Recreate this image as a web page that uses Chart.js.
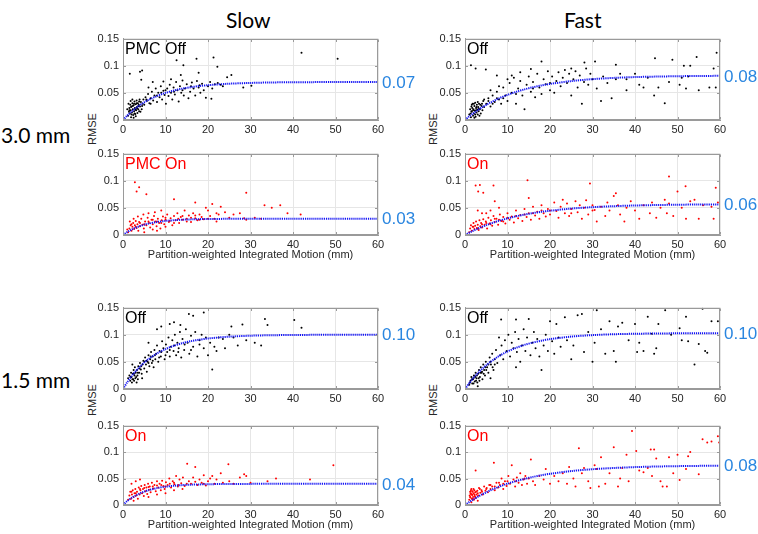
<!DOCTYPE html>
<html>
<head>
<meta charset="utf-8">
<script src="https://cdn.jsdelivr.net/npm/chart.js@4.4.1/dist/chart.umd.min.js"></script>
<style>
  body { margin: 0; background: #fff; width: 758px; height: 534px; position: relative; overflow: hidden; font-family: "Liberation Sans", Arial, sans-serif; }
  canvas { position: absolute; }
  .hdr { position: absolute; font-family: Lato, "Open Sans", sans-serif; font-size: 21px; line-height: 21px; color: #000; white-space: nowrap; }
  .rmse { position: absolute; font-size: 11px; color: #262626; transform: translate(-50%, -50%) rotate(-90deg); white-space: nowrap; }
</style>
</head>
<body>
<div class="hdr" style="left:226px;top:9px;">Slow</div>
<div class="hdr" style="left:564px;top:9px;">Fast</div>
<div class="hdr" style="left:1px;top:124px;font-size:21px;">3.0 mm</div>
<div class="hdr" style="left:1px;top:369px;font-size:21px;">1.5 mm</div>
<div class="rmse" style="left:92px;top:129px;">RMSE</div>
<div class="rmse" style="left:433px;top:129px;">RMSE</div>
<div class="rmse" style="left:92px;top:400px;">RMSE</div>
<div class="rmse" style="left:433px;top:400px;">RMSE</div>

<script>
// axis ticks
const xTickLabels = ['0', '10', '20', '30', '40', '50', '60'];
const yTickLabels = ['0', '0.05', '0.1', '0.15'];
const xTitle = 'Partition-weighted Integrated Motion (mm)';

// x positions of the fitted curves
const fitX = [0, 1, 2, 3, 4, 5, 6, 8, 10, 12, 14, 16, 18, 20, 25, 30, 35, 40, 45, 50, 55, 60];

// fitted curves
const fitSlow30Off = [0, .0082, .0155, .0218, .0275, .0326, .0369, .0442, .0500, .0544, .0579, .0605, .0626, .0642, .0669, .0683, .0692, .0696, .0698, .0699, .0700, .0700];
const fitSlow30On  = [0, .0054, .0099, .0135, .0165, .0190, .0210, .0240, .0259, .0272, .0282, .0288, .0292, .0295, .0298, .0299, .0300, .0300, .0300, .0300, .0300, .0300];
const fitFast30Off = [0, .0066, .0126, .0181, .0232, .0280, .0322, .0399, .0463, .0518, .0565, .0604, .0637, .0665, .0717, .0753, .0776, .0791, .0800, .0807, .0811, .0814];
const fitFast30On  = [0, .0042, .0081, .0117, .0151, .0182, .0211, .0262, .0306, .0344, .0376, .0404, .0428, .0447, .0487, .0513, .0531, .0544, .0552, .0558, .0562, .0564];
const fitSlow15Off = [0, .0125, .0234, .0330, .0413, .0487, .0551, .0656, .0736, .0798, .0845, .0882, .0909, .0931, .0964, .0982, .0991, .0995, .0998, .0999, .1000, .1000];
const fitSlow15On  = [0, .0073, .0132, .0180, .0220, .0253, .0280, .0319, .0346, .0364, .0376, .0384, .0389, .0393, .0397, .0399, .0400, .0400, .0400, .0400, .0400, .0400];
const fitFast15Off = [0, .0108, .0205, .0291, .0370, .0439, .0501, .0607, .0691, .0758, .0813, .0856, .0891, .0919, .0966, .0993, .1009, .1018, .1023, .1026, .1028, .1029];
const fitFast15On  = [0, .0056, .0107, .0155, .0199, .0239, .0278, .0345, .0403, .0452, .0494, .0531, .0563, .0589, .0641, .0676, .0699, .0716, .0727, .0734, .0739, .0743];

// fitted plateau values printed on the right
const fitLabels = ['0.07', '0.03', '0.08', '0.06', '0.10', '0.04', '0.10', '0.08'];

// measured points [motion, rmse]
const ptsSlow30Off = [
  [1.2,.008],[1.4,.015],[1.5,.022],[1.6,.012],[1.7,.028],[1.8,.018],[1.9,.005],[2.0,.025],[2.1,.014],[2.2,.031],[2.3,.020],[2.4,.009],[2.5,.027],[2.6,.016],[2.7,.034],[2.8,.022],[2.9,.011],[3.0,.029],[3.1,.018],[3.2,.036],[3.3,.024],[3.4,.013],[3.5,.031],[3.6,.020],[3.7,.028],[3.8,.016],[3.9,.038],[4.0,.025],[4.2,.033],[4.4,.020],[4.6,.030],[4.8,.038],[1.3,.030],[1.8,.035],[2.2,.038],[2.5,.004],[3.0,.007],[1.0,.020],
  [1.5,.018],[2.0,.010],[2.3,.026],[2.6,.030],[2.9,.019],[3.3,.021],[3.6,.026],[4.1,.015],[4.5,.026],[1.9,.024],[2.7,.012],[3.2,.031],[3.8,.034],[5.5,.038],[6.5,.030],[8.0,.045],[9.0,.050],[10.0,.055],[12.0,.052],[14.0,.055],[16.0,.062],[18.0,.064],
  [5.0,.028],[5.3,.042],[5.6,.035],[5.9,.048],[6.2,.031],[6.5,.040],[6.8,.052],[7.1,.036],[7.4,.045],[7.7,.058],[8.0,.033],[8.3,.050],[8.6,.042],[8.9,.062],[9.2,.038],[9.5,.054],[9.8,.046],[10.1,.030],[10.4,.058],[10.7,.044],[11.0,.065],[11.3,.050],[11.6,.038],[11.9,.060],[12.2,.047],[12.5,.070],[12.8,.055],[13.1,.034],[13.4,.062],[13.7,.050],[14.0,.073],[14.3,.045],[14.6,.058],[15.0,.066],[15.4,.040],[15.8,.052],[16.2,.069],[16.6,.058],[17.0,.045],[17.4,.072],[17.8,.060],[18.2,.050],[18.6,.067],[19.0,.055],[19.5,.041],[20.0,.062],[20.5,.070],[21.0,.058],[21.6,.066],[22.3,.068],[23.0,.065],[23.5,.062],[24.5,.079],[25.5,.083],[28.3,.060],[30.2,.063],[7.0,.070],[9.5,.071],[11.3,.075],[13.6,.083],[6.0,.060],
  [1.6,.085],[4.0,.089],[4.5,.091],[4.3,.074],[12.6,.110],[14.2,.101],[17.3,.113],[17.8,.087],[21.3,.115],[22.2,.098],[42.0,.124],[50.5,.113],[20.8,.039]
];
const ptsSlow30On = [
  [1.2,.005],[1.5,.012],[1.8,.018],[2.0,.008],[2.2,.015],[2.4,.022],[2.6,.011],[2.8,.018],[3.0,.026],[3.2,.013],[3.4,.020],[3.6,.008],[3.8,.024],[4.0,.016],[4.3,.030],[4.6,.019],[4.9,.012],[5.2,.025],[5.5,.018],[5.8,.032],[6.1,.022],[6.4,.014],[6.7,.028],[7.0,.020],[7.3,.035],[7.6,.025],[7.9,.016],[8.2,.030],[8.5,.022],[8.8,.012],[9.1,.027],[9.4,.034],[9.7,.020],[10.0,.028],[10.4,.038],[10.8,.024],[11.2,.031],[11.6,.018],[12.0,.035],[12.4,.027],[12.8,.040],[13.2,.022],[13.6,.033],[14.0,.028],[14.5,.045],[15.0,.030],[15.5,.036],[16.0,.024],[16.5,.040],[17.0,.031],[17.5,.027],[18.0,.038],[18.5,.033],[19.0,.029],[19.5,.050],[20.0,.045],[20.5,.035],[21.0,.057],[21.5,.030],[22.0,.040],[22.5,.038],[23.0,.052],[24.0,.042],[25.0,.032],[26.0,.038],[27.5,.040],[28.5,.031],[29.0,.028],[31.0,.032],[32.5,.030],[33.3,.055],[35.0,.050],[37.0,.055],[38.7,.040],[41.8,.038],[29.0,.078],[12.0,.066],[17.0,.060],[1.6,.025],[2.5,.030],[3.5,.034],[4.8,.038],[6.0,.040],[7.5,.042],[9.0,.045],[1.0,.010],[5.0,.005],[7.0,.010],[8.0,.008],[10.0,.015],
  [2.0,.020],[3.0,.015],[4.0,.022],[5.0,.020],[6.0,.025],[7.0,.028],[8.0,.025],[9.0,.022],[10.0,.032],[11.0,.026],[12.0,.022],[13.0,.030],[14.0,.035],[15.0,.025],[16.0,.032],[17.0,.036],[18.0,.028],[20.0,.030],[22.0,.025],
  [2.8,.097],[3.2,.080],[3.8,.088],[5.5,.075]
];
const ptsFast30Off = [
  [1.0,.010],[1.2,.020],[1.4,.005],[1.5,.025],[1.6,.015],[1.8,.030],[1.9,.008],[2.0,.020],[2.1,.012],[2.2,.026],[2.3,.017],[2.4,.032],[2.5,.006],[2.6,.022],[2.7,.014],[2.8,.028],[2.9,.019],[3.0,.010],[3.1,.024],[3.2,.016],[3.3,.030],[3.5,.020],[3.7,.012],[3.9,.026],[4.1,.018],[4.3,.035],[4.5,.024],[1.7,.022],[2.2,.004],[3.4,.008],
  [1.3,.012],[1.6,.028],[1.9,.018],[2.1,.030],[2.4,.010],[2.7,.024],[3.0,.033],[3.2,.021],[3.6,.028],[4.0,.030],[1.5,.016],[2.6,.018],[4.5,.038],[5.5,.035],[6.5,.030],[7.5,.040],[9.0,.040],[12.0,.048],[16.0,.058],[20.0,.068],
  [5.0,.030],[5.5,.040],[6.0,.025],[6.5,.045],[7.0,.033],[7.5,.052],[8.0,.038],[8.5,.030],[9.0,.060],[9.5,.045],[10.0,.035],[10.5,.068],[11.0,.050],[11.5,.078],[12.0,.030],[12.5,.058],[13.0,.072],[13.5,.045],[14.0,.020],[14.5,.065],[15.0,.080],[15.5,.052],[16.0,.070],[16.5,.042],[17.0,.085],[17.5,.060],[18.0,.048],[18.5,.075],[19.0,.066],[19.5,.090],[20.0,.055],[20.5,.080],[21.0,.050],[21.5,.072],[22.0,.088],[22.5,.062],[23.0,.078],[23.5,.092],[24.0,.068],[24.5,.085],[25.0,.045],[25.5,.075],[26.0,.090],[26.5,.060],[27.0,.082],[27.5,.030],[28.0,.070],[28.5,.095],[29.0,.065],[29.5,.085],[30.0,.075],[31.0,.058],[32.0,.035],[32.5,.080],[33.5,.068],[34.5,.040],[35.5,.075],[36.5,.085],[38.0,.055],[38.0,.075],[40.0,.085],[41.0,.065],[42.0,.060],[43.0,.078],[44.5,.045],[45.5,.060],[47.0,.031],[48.0,.070],[50.5,.065],[51.0,.078],[52.0,.058],[52.5,.080],[55.0,.055],[57.5,.060],[58.5,.095],[59.0,.060],[6.0,.055],[8.0,.062],[10.0,.075],[11.0,.082],[13.0,.088],
  [1.4,.101],[2.5,.095],[4.9,.093],[7.5,.082],[15.5,.094],[18.0,.108],[25.0,.095],[28.1,.106],[30.6,.108],[35.5,.102],[44.7,.114],[48.8,.111],[51.5,.100],[53.0,.100],[54.5,.116],[59.2,.124]
];
const ptsFast30On = [
  [1.0,.005],[1.2,.012],[1.4,.018],[1.6,.008],[1.8,.015],[2.0,.022],[2.2,.011],[2.4,.017],[2.6,.025],[2.8,.013],[3.0,.019],[3.2,.009],[3.4,.027],[3.6,.016],[3.8,.022],[4.0,.014],[4.3,.029],[4.6,.019],[4.9,.025],[5.2,.012],[5.5,.032],[5.8,.021],[6.1,.027],[6.4,.017],[6.7,.035],[7.0,.024],[7.4,.030],[7.8,.019],[8.2,.038],[8.6,.026],[9.0,.033],[9.5,.021],[10.0,.040],[10.5,.028],[11.0,.034],[11.5,.023],[12.0,.045],[12.5,.031],[13.0,.037],[13.5,.026],[14.0,.048],[14.5,.033],[15.0,.040],[15.5,.028],[16.0,.052],[16.5,.036],[17.0,.043],[17.5,.030],[18.0,.055],[18.5,.040],[19.0,.034],[19.5,.048],[20.0,.038],[21.0,.060],[21.5,.044],[22.0,.032],[22.5,.052],[23.0,.065],[23.5,.040],[24.0,.058],[24.5,.035],[25.0,.048],[26.0,.062],[26.5,.042],[27.0,.055],[27.5,.030],[28.0,.050],[28.5,.064],[29.0,.038],[30.0,.055],[30.5,.046],[31.0,.025],[32.0,.052],[33.0,.035],[33.5,.060],[34.0,.045],[35.0,.072],[35.5,.077],[36.0,.055],[36.5,.038],[37.5,.025],[38.0,.050],[39.0,.062],[40.0,.045],[41.0,.030],[42.0,.055],[43.5,.040],[44.0,.060],[45.0,.032],[46.0,.050],[47.0,.065],[47.5,.040],[48.0,.058],[49.0,.035],[50.0,.080],[51.0,.050],[52.0,.030],[53.0,.062],[54.0,.065],[55.0,.030],[56.0,.055],[58.0,.052],[58.5,.030],[59.5,.060],[5.0,.040],[6.0,.045],[8.0,.050],[4.0,.040],[3.0,.045],
  [2.0,.015],[3.0,.012],[4.0,.020],[5.0,.022],[6.0,.020],[7.0,.030],[8.0,.028],[9.0,.025],[10.0,.032],[12.0,.035],[14.0,.038],[16.0,.040],[18.0,.045],[20.0,.045],[25.0,.040],[30.0,.045],
  [2.5,.091],[3.1,.080],[3.5,.092],[4.3,.078],[6.7,.091],[14.7,.101],[29.4,.095],[48.0,.108],[51.9,.090],[59.0,.087],[15.0,.068],[7.0,.062]
];
const ptsSlow15Off = [
  [1.2,.020],[1.5,.025],[1.7,.015],[1.9,.030],[2.0,.022],[2.1,.012],[2.3,.028],[2.4,.018],[2.5,.035],[2.6,.015],[2.7,.025],[2.8,.040],[2.9,.020],[3.0,.030],[3.2,.012],[3.3,.035],[3.4,.025],[3.6,.042],[3.8,.030],[4.0,.048],[4.2,.036],[4.4,.028],[4.6,.045],[4.8,.052],[5.0,.038],[5.2,.058],[5.4,.045],[5.6,.032],[5.8,.050],[6.0,.062],[6.2,.042],[6.4,.055],[6.6,.068],[6.8,.048],[7.0,.060],[7.2,.040],[7.4,.072],[7.6,.055],[7.8,.065],[8.0,.080],[8.3,.050],[8.6,.070],[8.9,.060],[9.2,.088],[9.5,.075],[9.8,.055],[10.1,.082],[10.4,.068],[10.7,.095],[11.0,.060],[11.3,.078],[11.6,.090],[11.9,.070],[12.2,.100],[12.5,.062],[12.8,.085],[13.1,.075],[13.4,.105],[13.7,.058],[14.0,.092],[14.4,.072],[14.8,.110],[15.2,.085],[15.6,.065],[16.0,.098],[16.5,.078],[17.0,.105],[17.5,.060],[18.0,.090],[18.5,.100],[19.0,.075],[19.5,.095],[20.0,.062],[20.5,.085],[21.0,.036],[21.5,.078],[22.0,.070],[22.5,.095],[23.5,.092],[24.0,.075],[25.0,.100],[25.5,.115],[26.0,.095],[27.0,.080],[28.1,.119],[29.0,.090],[31.0,.085],[32.5,.080],[9.0,.115],[11.0,.120],[12.0,.123],[13.5,.118],[8.0,.110],[6.0,.085],[15.5,.138],[16.5,.135],[19.0,.141],[33.4,.129],[34.0,.118],[40.3,.127],[42.0,.113],[3.5,.018],[4.5,.020],[2.2,.045],
  [1.8,.022],[2.2,.018],[2.6,.028],[3.1,.022],[3.5,.030],[3.9,.038],[4.3,.042],[5.0,.050],[5.5,.052],[6.0,.048],[6.5,.060],[7.0,.052],[7.5,.062],[8.5,.058],[9.0,.068],[10.0,.062],[11.0,.072],[12.0,.080],[13.0,.068],[14.5,.082],[16.0,.072],[18.0,.082]
];
const ptsSlow15On = [
  [1.2,.010],[1.5,.018],[1.7,.025],[1.9,.012],[2.1,.020],[2.3,.028],[2.5,.015],[2.7,.022],[2.9,.030],[3.1,.018],[3.3,.025],[3.5,.012],[3.7,.033],[3.9,.020],[4.1,.028],[4.3,.036],[4.5,.022],[4.7,.030],[4.9,.017],[5.1,.038],[5.3,.026],[5.5,.033],[5.7,.021],[5.9,.040],[6.1,.029],[6.3,.035],[6.5,.024],[6.8,.042],[7.1,.031],[7.4,.038],[7.7,.026],[8.0,.045],[8.3,.033],[8.6,.040],[8.9,.028],[9.2,.046],[9.5,.036],[9.8,.030],[10.1,.043],[10.5,.038],[10.9,.050],[11.3,.033],[11.7,.045],[12.1,.039],[12.5,.055],[12.9,.035],[13.3,.048],[13.7,.041],[14.1,.052],[14.5,.036],[15.1,.078],[15.5,.045],[16.0,.040],[16.5,.052],[17.0,.072],[17.5,.038],[18.0,.048],[18.5,.042],[19.0,.056],[19.5,.037],[20.0,.045],[21.0,.055],[21.5,.040],[22.0,.048],[23.0,.060],[23.5,.042],[24.8,.077],[25.0,.045],[26.0,.040],[27.5,.052],[28.5,.058],[29.0,.055],[30.0,.042],[34.0,.045],[36.0,.050],[44.0,.048],[49.5,.075],[2.0,.040],[3.0,.045],[4.0,.048],[6.0,.015],[8.0,.020],[10.0,.022],[12.0,.028],[14.0,.030],[2.5,.008],
  [2.0,.025],[3.0,.022],[4.0,.030],[5.0,.032],[6.0,.034],[7.0,.035],[8.0,.037],[9.0,.038],[10.0,.035],[11.0,.040],[12.0,.042],[13.0,.038],[15.0,.040],[17.0,.044],[19.0,.040],[20.5,.050]
];
const ptsFast15Off = [
  [1.0,.008],[1.3,.015],[1.5,.022],[1.7,.010],[1.9,.018],[2.1,.025],[2.3,.014],[2.5,.030],[2.7,.020],[2.9,.012],[3.1,.028],[3.3,.035],[3.5,.022],[3.7,.040],[3.9,.030],[4.1,.018],[4.3,.045],[4.5,.035],[4.7,.025],[4.9,.050],[5.2,.040],[5.5,.030],[5.8,.058],[6.1,.045],[6.4,.065],[6.7,.035],[7.0,.055],[7.3,.072],[7.6,.048],[8.0,.095],[8.3,.062],[8.6,.080],[9.0,.055],[9.4,.090],[9.8,.070],[10.2,.100],[10.6,.060],[11.0,.085],[11.4,.075],[11.8,.105],[12.0,.040],[12.2,.068],[12.6,.092],[13.0,.050],[13.4,.080],[13.8,.110],[14.2,.070],[14.6,.095],[15.0,.129],[15.4,.062],[15.8,.085],[16.2,.105],[16.6,.075],[17.0,.092],[17.5,.060],[18.0,.035],[18.5,.080],[19.0,.100],[19.5,.070],[20.0,.125],[20.5,.088],[21.0,.065],[21.5,.120],[22.0,.095],[22.5,.078],[23.5,.132],[24.0,.090],[25.0,.055],[25.5,.080],[26.5,.136],[27.5,.138],[28.0,.068],[29.0,.105],[30.0,.050],[30.5,.085],[31.0,.145],[32.0,.110],[33.0,.065],[34.0,.125],[35.0,.070],[35.5,.050],[36.0,.115],[37.0,.122],[38.5,.090],[40.0,.120],[40.5,.068],[41.0,.085],[42.0,.070],[43.0,.133],[44.0,.102],[44.5,.065],[45.0,.075],[45.5,.120],[47.1,.145],[48.5,.100],[50.5,.112],[51.0,.090],[52.0,.133],[52.5,.088],[54.0,.045],[55.0,.083],[55.9,.148],[56.5,.070],[57.0,.067],[58.0,.125],[59.5,.125],[8.5,.128],[12.0,.128],[6.0,.020],[3.0,.005],
  [1.2,.012],[1.6,.018],[2.0,.020],[2.4,.022],[2.8,.025],[3.2,.020],[3.6,.030],[4.0,.032],[4.4,.028],[4.8,.040],[5.0,.035],[5.5,.045],[6.0,.050],[6.5,.040],[7.0,.045],[2.0,.010],[2.6,.015],[3.4,.015]
];
const ptsFast15On = [
  [1.0,.010],[1.1,.018],[1.2,.025],[1.3,.014],[1.4,.021],[1.5,.030],[1.6,.012],[1.7,.019],[1.8,.026],[1.9,.015],[2.0,.022],[2.1,.010],[2.2,.028],[2.3,.017],[2.4,.024],[2.5,.013],[2.7,.020],[2.9,.027],[3.1,.018],[3.3,.032],[3.6,.023],[3.9,.028],[4.2,.020],[4.5,.035],[4.8,.027],[5.1,.032],[5.4,.024],[5.7,.038],[6.0,.030],[6.4,.035],[6.8,.080],[7.0,.028],[7.4,.042],[7.8,.033],[8.2,.038],[8.6,.050],[9.0,.030],[9.4,.045],[9.8,.036],[10.2,.055],[10.6,.040],[11.0,.075],[11.4,.048],[11.8,.035],[12.2,.052],[12.6,.042],[13.0,.060],[13.4,.038],[13.8,.048],[14.2,.055],[14.6,.040],[15.0,.050],[15.5,.086],[16.0,.045],[16.5,.038],[17.5,.055],[18.5,.048],[19.0,.068],[20.0,.040],[21.0,.055],[22.0,.045],[23.0,.060],[24.0,.040],[24.5,.072],[25.5,.050],[26.0,.035],[26.8,.107],[27.5,.060],[28.0,.070],[29.0,.045],[29.5,.032],[30.5,.075],[31.0,.068],[31.5,.035],[32.0,.090],[33.0,.040],[34.0,.060],[35.0,.109],[36.0,.035],[36.5,.050],[37.0,.070],[38.0,.095],[38.5,.045],[39.3,.140],[40.3,.102],[41.0,.065],[42.0,.062],[43.0,.070],[43.7,.105],[44.5,.105],[44.0,.055],[45.0,.088],[46.0,.045],[46.5,.035],[47.5,.035],[48.0,.090],[49.0,.060],[50.0,.095],[50.5,.047],[52.0,.068],[52.5,.092],[53.0,.100],[55.0,.058],[55.9,.124],[57.0,.118],[58.0,.120],[59.5,.130],[59.8,.118],[2.5,.065],[1.5,.005],[3.0,.008],
  [1.2,.015],[1.4,.028],[1.6,.020],[1.8,.012],[2.0,.030],[2.2,.020],[2.4,.015],[1.3,.022],[1.7,.025],[2.6,.025],[3.0,.022],[3.5,.030],[4.0,.025],[5.0,.030],[6.0,.038],[7.0,.035],[8.0,.042],[9.0,.040],[10.0,.045],[12.0,.045],[14.0,.050]
];

// layout of the 2 x 4 grid
const colLeft = [123, 465];
const rowTop = [36, 151, 305, 423];
const rowH = [84, 84, 84, 82];
const plotW = 255;
const axisW = 40;
const padTop = 8;
const padRight = 50;

Chart.defaults.font.family = '"Liberation Sans", Arial, sans-serif';
Chart.defaults.font.size = 11;
Chart.defaults.color = '#262626';

function makePanel(col, row, pts, fit, label, labelColor, dotColor, fitText, withTitle) {
  const xh = withTitle ? 27 : 16;
  const canvas = document.createElement('canvas');
  const w = axisW + plotW + padRight;
  const h = padTop + rowH[row] + xh;
  canvas.width = w;
  canvas.height = h;
  canvas.style.left = (colLeft[col] - axisW) + 'px';
  canvas.style.top = (rowTop[row] - padTop) + 'px';
  document.body.appendChild(canvas);

  const panelDeco = {
    id: 'panelDeco',
    afterDatasetsDraw(chart) {
      const { ctx, chartArea: a, scales: { x, y } } = chart;
      ctx.save();
      // axes box with inward ticks
      ctx.strokeStyle = '#9a9a9a';
      ctx.lineWidth = 1;
      const l = Math.round(a.left) + 0.5, t = Math.round(a.top) + 0.5;
      const r = Math.round(a.right) - 0.5, b = Math.round(a.bottom) - 0.5;
      ctx.strokeRect(l, t, r - l, b - t);
      ctx.beginPath();
      x.ticks.forEach(tk => {
        const px = Math.round(x.getPixelForValue(tk.value)) + 0.5;
        ctx.moveTo(px, b); ctx.lineTo(px, b - 2.5);
        ctx.moveTo(px, t); ctx.lineTo(px, t + 2.5);
      });
      y.ticks.forEach(tk => {
        const py = Math.round(y.getPixelForValue(tk.value)) + 0.5;
        ctx.moveTo(l, py); ctx.lineTo(l + 2.5, py);
        ctx.moveTo(r, py); ctx.lineTo(r - 2.5, py);
      });
      ctx.stroke();

      // panel label
      ctx.font = '16px "Liberation Sans", Arial, sans-serif';
      ctx.fillStyle = labelColor;
      ctx.textBaseline = 'alphabetic';
      ctx.textAlign = 'left';
      ctx.fillText(label, a.left + 2, a.top + 15);

      // plateau value of the fit
      ctx.font = '17px "Liberation Sans", Arial, sans-serif';
      ctx.fillStyle = '#2a86e0';
      ctx.textBaseline = 'middle';
      ctx.fillText(fitText, a.right + 4, y.getPixelForValue(fit[fit.length - 1]) + 1);
      ctx.restore();
    }
  };

  new Chart(canvas.getContext('2d'), {
    type: 'scatter',
    data: {
      datasets: [
        {
          type: 'line',
          data: fitX.map((v, i) => ({ x: v, y: fit[i] })),
          borderColor: '#1414f5',
          borderWidth: 2,
          borderDash: [1.2, 0.9],
          pointRadius: 0,
          fill: false,
          tension: 0.3,
          order: 0
        },
        {
          data: pts.map(p => ({ x: p[0], y: p[1] })),
          backgroundColor: dotColor,
          borderWidth: 0,
          pointRadius: 1,
          order: 1
        }
      ]
    },
    options: {
      responsive: false,
      animation: false,
      devicePixelRatio: 1,
      layout: { padding: { left: 0, top: padTop, right: padRight, bottom: 0 } },
      plugins: { legend: { display: false }, tooltip: { enabled: false } },
      scales: {
        x: {
          type: 'linear',
          min: 0,
          max: 60,
          afterFit: s => { s.height = xh; },
          grid: { color: '#e6e6e6', drawTicks: false },
          border: { color: '#9a9a9a' },
          ticks: {
            stepSize: 10,
            padding: 3,
            autoSkip: false,
            maxRotation: 0,
            callback: (v, i) => xTickLabels[i]
          },
          title: {
            display: withTitle,
            text: xTitle,
            padding: { top: 0, bottom: 0 },
            font: { size: 11 }
          }
        },
        y: {
          type: 'linear',
          min: 0,
          max: 0.15,
          afterFit: s => { s.width = axisW; },
          grid: { color: '#e6e6e6', drawTicks: false },
          border: { color: '#9a9a9a' },
          ticks: {
            stepSize: 0.05,
            padding: 4,
            autoSkip: false,
            callback: (v, i) => yTickLabels[i]
          }
        }
      }
    },
    plugins: [panelDeco]
  });
}

makePanel(0, 0, ptsSlow30Off, fitSlow30Off, 'PMC Off', '#000', '#000', fitLabels[0], false);
makePanel(0, 1, ptsSlow30On,  fitSlow30On,  'PMC On',  '#ff0000', '#ff0000', fitLabels[1], true);
makePanel(1, 0, ptsFast30Off, fitFast30Off, 'Off', '#000', '#000', fitLabels[2], false);
makePanel(1, 1, ptsFast30On,  fitFast30On,  'On',  '#ff0000', '#ff0000', fitLabels[3], true);
makePanel(0, 2, ptsSlow15Off, fitSlow15Off, 'Off', '#000', '#000', fitLabels[4], false);
makePanel(0, 3, ptsSlow15On,  fitSlow15On,  'On',  '#ff0000', '#ff0000', fitLabels[5], true);
makePanel(1, 2, ptsFast15Off, fitFast15Off, 'Off', '#000', '#000', fitLabels[6], false);
makePanel(1, 3, ptsFast15On,  fitFast15On,  'On',  '#ff0000', '#ff0000', fitLabels[7], true);
</script>
</body>
</html>
